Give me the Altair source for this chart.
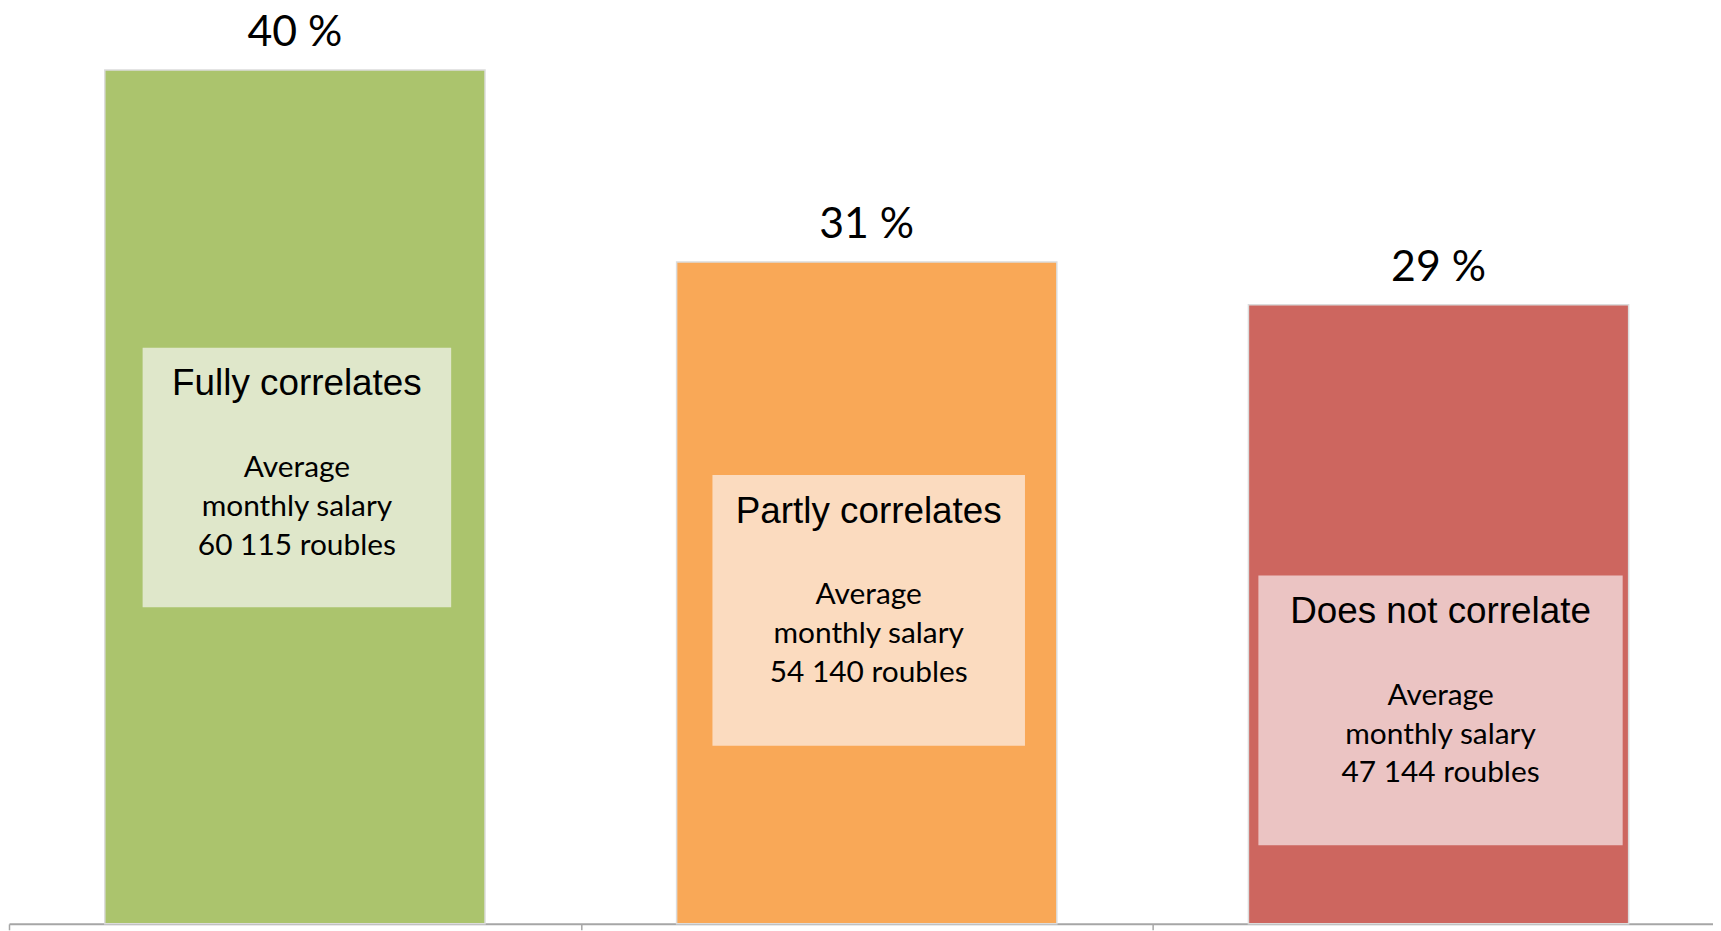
import altair as alt
import pandas as pd

# ---- data ----
categories = ["Fully correlates", "Partly correlates", "Does not correlate"]
shares = [40, 31, 29]                       # % of respondents
salaries = ["60 115", "54 140", "47 144"]   # average monthly salary, roubles

# ---- styles ----
bar_colors = ["#ABC46D", "#F9A857", "#CD665F"]
box_colors = ["#DFE7CA", "#FBDBBF", "#EBC4C3"]

# ---- annotation-box layout (in y-axis units / px) ----
box_top = [26.99, 21.03, 16.32]
box_bottom = [14.83, 8.34, 3.68]
box_width = [310, 314, 366]

df = pd.DataFrame({
    "category": categories,
    "share": shares,
    "label": [f"{s} %" for s in shares],
    "body": [f"Average\nmonthly salary\n{s} roubles" for s in salaries],
    "box_top": box_top,
    "box_bottom": box_bottom,
    "box_w": box_width,
})

W, H = 1712, 918
STEP = 574.5            # px per category slot (the chart is cropped on the right)
BAR_W = 382

x = alt.X(
    "pos:Q",
    scale=alt.Scale(domain=[0, W / STEP], nice=False, zero=False, padding=0),
    axis=alt.Axis(
        title=None, labels=False, values=[0, 1, 2], grid=False,
        domainColor="#A6A6A6", domainWidth=2,
        tickColor="#A6A6A6", tickWidth=1.5, tickSize=6,
    ),
)
yscale = alt.Scale(domain=[0, 42.8], nice=False, zero=True)

base = alt.Chart(df).transform_window(
    idx="row_number()"
).transform_calculate(
    pos="datum.idx - 0.5"
)

bars = base.mark_bar(size=BAR_W, stroke="#DCDCDC", strokeWidth=1.5).encode(
    x=x,
    y=alt.Y("share:Q", scale=yscale, axis=None),
    color=alt.Color("category:N", scale=alt.Scale(domain=categories, range=bar_colors), legend=None),
)

pct = base.mark_text(dy=-24, baseline="alphabetic", font="Lato", fontSize=43, color="#000000").encode(
    x=x, y=alt.Y("share:Q", scale=yscale), text="label:N"
)

boxes = base.mark_bar(xOffset=2).encode(
    x=x,
    y=alt.Y("box_top:Q", scale=yscale),
    y2="box_bottom:Q",
    size=alt.Size("box_w:Q", scale=None, legend=None),
    color=alt.Color("category:N", scale=alt.Scale(domain=categories, range=box_colors), legend=None),
)

titles = base.mark_text(dy=48, dx=2, baseline="alphabetic", font="Liberation Sans", fontSize=37, color="#000000").encode(
    x=x, y=alt.Y("box_top:Q", scale=yscale), text="category:N"
)

body = base.mark_text(dy=130, dx=2, baseline="alphabetic", font="Lato", fontSize=30, lineBreak="\n",
                      lineHeight=39, color="#000000").encode(
    x=x, y=alt.Y("box_top:Q", scale=yscale), text="body:N"
)

chart = alt.layer(bars, pct, boxes, titles, body).resolve_scale(color="independent").properties(
    width=W, height=H,
    padding={"left": 1, "top": 0, "right": 0, "bottom": 6},
    autosize="none",
).configure_view(stroke=None)

chart.save("out.html", embed_options={"renderer": "svg", "actions": False})
